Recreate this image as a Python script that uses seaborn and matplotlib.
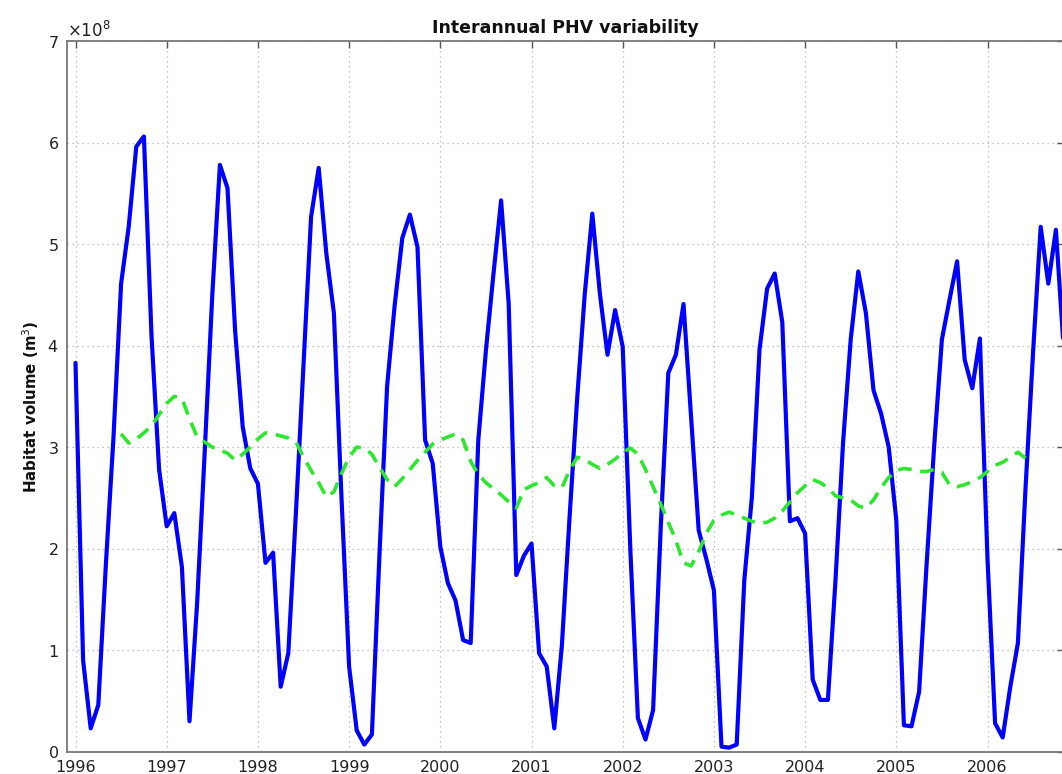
import numpy as np
import matplotlib
matplotlib.use("Agg")
import matplotlib.pyplot as plt
from matplotlib.ticker import ScalarFormatter
import seaborn as sns

# Monthly potential habitat volume (units of 1e8 m3), Jan 1996 -> Nov 2006
phv_1996 = [3.83, 0.90, 0.23, 0.46, 1.85, 3.10, 4.61, 5.17, 5.96, 6.06, 4.10, 2.78]
phv_1997 = [2.22, 2.35, 1.82, 0.30, 1.46, 2.95, 4.50, 5.78, 5.55, 4.15, 3.20, 2.79]
phv_1998 = [2.64, 1.86, 1.96, 0.64, 0.97, 2.35, 3.80, 5.27, 5.75, 4.91, 4.32, 2.50]
phv_1999 = [0.84, 0.21, 0.07, 0.17, 1.95, 3.60, 4.40, 5.06, 5.29, 4.97, 3.07, 2.84]
phv_2000 = [2.02, 1.66, 1.49, 1.10, 1.07, 3.07, 3.95, 4.71, 5.43, 4.41, 1.74, 1.93]
phv_2001 = [2.05, 0.97, 0.84, 0.23, 1.05, 2.30, 3.47, 4.50, 5.30, 4.51, 3.91, 4.35]
phv_2002 = [3.99, 2.00, 0.33, 0.12, 0.41, 2.20, 3.73, 3.91, 4.41, 3.30, 2.18, 1.90]
phv_2003 = [1.59, 0.05, 0.04, 0.07, 1.69, 2.51, 3.96, 4.56, 4.71, 4.23, 2.27, 2.30]
phv_2004 = [2.15, 0.71, 0.51, 0.51, 1.69, 3.05, 4.06, 4.73, 4.32, 3.56, 3.33, 3.00]
phv_2005 = [2.28, 0.26, 0.25, 0.59, 1.86, 3.03, 4.06, 4.45, 4.83, 3.86, 3.58, 4.07]
phv_2006 = [1.90, 0.28, 0.14, 0.64, 1.07, 2.59, 3.94, 5.17, 4.61, 5.14, 4.00]

# 12-month running mean (units of 1e8 m3), Jul 1996 -> Jun 2006
trend = [3.13, 3.04, 3.08, 3.14, 3.21, 3.32,
         3.43, 3.50, 3.48, 3.28, 3.10, 3.05, 3.00, 2.97, 2.94, 2.87, 2.93, 3.00,
         3.08, 3.14, 3.13, 3.11, 3.09, 3.05, 2.90, 2.77, 2.65, 2.51, 2.56, 2.74,
         2.90, 3.00, 2.99, 2.93, 2.80, 2.68, 2.61, 2.69, 2.78, 2.87, 2.95, 3.03,
         3.07, 3.10, 3.13, 3.07, 2.86, 2.73, 2.65, 2.59, 2.53, 2.46, 2.40, 2.58,
         2.62, 2.65, 2.70, 2.62, 2.60, 2.77, 2.90, 2.88, 2.83, 2.79, 2.83, 2.88,
         2.95, 2.99, 2.93, 2.78, 2.61, 2.44, 2.26, 2.08, 1.86, 1.83, 1.97, 2.15,
         2.28, 2.33, 2.36, 2.33, 2.30, 2.27, 2.25, 2.26, 2.30, 2.37, 2.46, 2.55,
         2.62, 2.68, 2.65, 2.60, 2.52, 2.50, 2.48, 2.42, 2.40, 2.48, 2.60, 2.70,
         2.77, 2.79, 2.78, 2.76, 2.76, 2.78, 2.75, 2.63, 2.61, 2.63, 2.66, 2.70,
         2.76, 2.82, 2.85, 2.90, 2.95, 2.89]
trend_start_month = 6  # July 1996

years = list(range(1996, 2007))

phv = np.array(phv_1996 + phv_1997 + phv_1998 + phv_1999 + phv_2000 + phv_2001
               + phv_2002 + phv_2003 + phv_2004 + phv_2005 + phv_2006) * 1e8
t_phv = 1996 + np.arange(len(phv)) / 12.0
t_trend = 1996 + (trend_start_month + np.arange(len(trend))) / 12.0
trend_v = np.array(trend) * 1e8

sns.set_style("white")
plt.rcParams['font.family'] = ['DejaVu Sans']
plt.rcParams['text.color'] = 'black'

fig = plt.figure(figsize=(10.62, 7.74), dpi=100)
ax = fig.add_axes([67 / 1062, 1 - 751.7 / 774, (1064 - 67) / 1062, (751.7 - 41) / 774])

sns.lineplot(x=t_phv, y=phv, ax=ax, color='#0000ff', linewidth=3.0)
sns.lineplot(x=t_trend, y=trend_v, ax=ax, color='#2ee62e', linewidth=2.6,
             linestyle=(0, (3.8, 2.4)))

ax.set_xlim(1996 - 8.5 / 91.2, 1996 + (1064 - 75.5) / 91.2)
ax.set_ylim(0, 7e8)
ax.set_xticks(years)
ax.set_xticklabels([str(y) for y in years])
ax.set_yticks(np.arange(0, 8) * 1e8)

fmt = ScalarFormatter(useMathText=True)
fmt.set_powerlimits((0, 0))
ax.yaxis.set_major_formatter(fmt)
ax.yaxis.get_offset_text().set_fontsize(12)
ax.yaxis.get_offset_text().set_color('#222222')

ax.grid(True, linestyle=(0, (1, 3)), color='#b0b0b0', linewidth=0.9)
ax.tick_params(direction='in', top=True, right=True, length=5, width=1,
               color='#555555', labelsize=11.5, labelcolor='#222222')
ax.tick_params(axis='x', pad=6)
ax.tick_params(axis='y', pad=6)
for s in ax.spines.values():
    s.set_color('#777777')
    s.set_linewidth(1.3)

ax.set_title('Interannual PHV variability', fontsize=12.5, fontweight='bold',
             pad=6, color='#111111')
ax.set_ylabel('Habitat volume (m$^3$)', fontsize=10.8, fontweight='bold',
              color='#111111')
ax.yaxis.set_label_coords(-0.026, 0.486)
ax.set_xlabel('')

fig.savefig('out.png', dpi=100)
